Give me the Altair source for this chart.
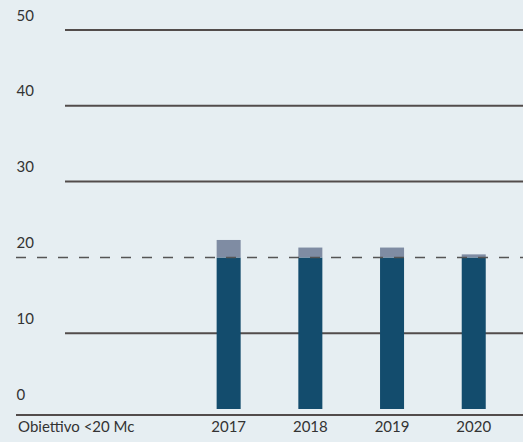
import altair as alt
import pandas as pd

categories = ["Obiettivo <20 Mc", "", "2017", "2018", "2019", "2020"]
years = ["2017", "2018", "2019", "2020"]
within_target = [20, 20, 20, 20]
excess = [2.3, 1.3, 1.3, 0.4]
target = 20
grid_values = [10, 30, 40, 50]
tick_values = [0, 10, 20, 30, 40, 50]

rows = []
for y, a, b in zip(years, within_target, excess):
    rows.append({"year": y, "seg": "Entro obiettivo", "ord": 0, "value": a})
    rows.append({"year": y, "seg": "Eccedenza", "ord": 1, "value": b})
bars_df = pd.DataFrame(rows)
grid_df = pd.DataFrame({"v": grid_values})
target_df = pd.DataFrame({"v": [target]})

FONT = "Lato"
FS = 15
yscale = alt.Scale(domain=[0, 50], nice=False, zero=True)

grid = alt.Chart(grid_df).mark_rule(color="#524c4b", strokeWidth=2).encode(
    y=alt.Y("v:Q", scale=yscale,
            axis=alt.Axis(values=tick_values, title=None, labelAlign="left",
                          labelBaseline="alphabetic", labelOffset=-10,
                          labelPadding=0, tickSize=0, ticks=False, domain=False,
                          grid=False, labelFont=FONT, labelFontSize=FS,
                          labelColor="#333333")),
    x=alt.value(49),
    x2=alt.value(507),
)

base_line = alt.Chart(target_df).mark_rule(color="#524c4b", strokeWidth=2).encode(
    y=alt.value(385),
    x=alt.value(0),
    x2=alt.value(507),
)

bars = alt.Chart(bars_df).mark_bar().encode(
    x=alt.X("year:N", scale=alt.Scale(domain=categories, paddingInner=0.706,
                                      paddingOuter=0.456),
            axis=alt.Axis(title=None, labelAngle=0, ticks=False, domain=False,
                          labelPadding=10, labelFont=FONT, labelFontSize=FS,
                          labelColor="#333333",
                          labelOffset={"condition": {"test": "datum.value == 'Obiettivo <20 Mc'", "value": 11}, "value": 0})),
    y=alt.Y("value:Q", stack="zero", scale=yscale, title=None),
    color=alt.Color("seg:N", scale=alt.Scale(domain=["Entro obiettivo", "Eccedenza"],
                                             range=["#134c6d", "#7f8ca3"]), legend=None),
    order=alt.Order("ord:Q"),
)

dash = alt.Chart(target_df).mark_rule(color="#555555", strokeWidth=1.5,
                                      strokeDash=[10, 11]).encode(
    y=alt.Y("v:Q", scale=yscale, title=None),
    x=alt.value(0),
    x2=alt.value(507),
)

chart = alt.layer(grid, base_line, bars, dash).properties(
    width=507, height=379,
    background="#e6eef2",
    padding={"left": 16, "top": 30, "right": 0, "bottom": 33},
    autosize=alt.AutoSizeParams(type="none"),
).configure_view(stroke=None).configure_axis(grid=False)

chart.save("out.html", embed_options={"renderer": "svg", "actions": False})
